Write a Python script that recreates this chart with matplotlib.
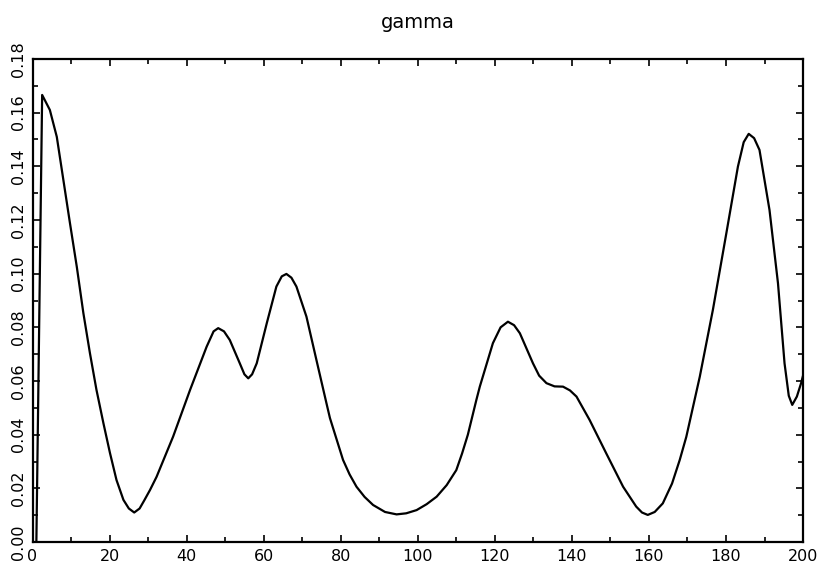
import matplotlib

matplotlib.use("Agg")
import matplotlib.pyplot as plt
from matplotlib.ticker import MultipleLocator

# values
x_vals = [
    1.0, 2.5, 4.5, 6.3, 8.0, 9.7, 11.5, 13.2, 14.9, 16.6, 18.4, 20.1, 21.8,
    23.6, 25.0, 26.4, 27.8, 29.0, 30.5, 32.2, 36.5, 40.9, 45.2, 47.0, 48.2,
    49.7, 51.2, 53.8, 55.0, 56.0, 57.0, 58.2, 60.8, 63.3, 64.7, 65.9, 67.2,
    68.5, 71.1, 73.7, 76.3, 77.2, 80.6, 82.3, 84.1, 86.2, 88.4, 91.5, 94.5,
    97.0, 99.7, 102.3, 104.9, 107.5, 110.0, 111.5, 113.0, 115.2, 116.1, 119.5,
    121.5, 123.4, 125.0, 126.5, 129.9, 131.5, 133.4, 135.5, 137.7, 139.5,
    141.2, 144.6, 148.9, 153.3, 156.7, 158.2, 159.7, 161.5, 163.6, 166.0,
    168.0, 169.7, 173.2, 176.6, 180.1, 183.1, 184.6, 185.9, 187.3, 188.7,
    191.3, 193.5, 195.2, 196.3, 197.2, 198.4, 199.5, 200.0,
]
gamma_vals = [
    0.000, 0.1666, 0.161, 0.151, 0.135, 0.119, 0.1025, 0.0853, 0.0704, 0.0567,
    0.0443, 0.0332, 0.0231, 0.0157, 0.0125, 0.0110, 0.0125, 0.0155, 0.0194,
    0.0243, 0.0393, 0.0567, 0.0728, 0.0785, 0.0797, 0.0785, 0.0753, 0.0666,
    0.0625, 0.0610, 0.0625, 0.0666, 0.0815, 0.0952, 0.0990, 0.0999, 0.0985,
    0.0952, 0.0840, 0.0678, 0.0517, 0.0462, 0.0306, 0.0252, 0.0206, 0.0168,
    0.0138, 0.0112, 0.0103, 0.0107, 0.0119, 0.0141, 0.0169, 0.0212, 0.0268,
    0.0330, 0.0400, 0.0529, 0.0579, 0.0741, 0.0800, 0.0821, 0.0808, 0.0778,
    0.0666, 0.0620, 0.0592, 0.0580, 0.0579, 0.0565, 0.0542, 0.0455, 0.0331,
    0.0206, 0.0132, 0.0110, 0.0101, 0.0112, 0.0144, 0.0218, 0.0306, 0.0392,
    0.0616, 0.0865, 0.1151, 0.1399, 0.1490, 0.1521, 0.1505, 0.1461, 0.1237,
    0.0964, 0.0666, 0.0545, 0.0511, 0.0542, 0.0592, 0.0620,
]

fig = plt.figure(figsize=(8.17, 5.72), dpi=100)
ax = fig.add_axes([0.0398, 0.0524, 0.9431, 0.8445])

ax.plot(x_vals, gamma_vals, color="black", lw=1.6)

ax.set_xlim(0, 200)
ax.set_ylim(0, 0.18)
ax.xaxis.set_major_locator(MultipleLocator(20))
ax.xaxis.set_minor_locator(MultipleLocator(10))
ax.yaxis.set_major_locator(MultipleLocator(0.02))
ax.yaxis.set_minor_locator(MultipleLocator(0.01))
ax.set_yticklabels([f"{v:.2f}" for v in ax.get_yticks()], rotation=90, va="center")

ax.tick_params(which="both", direction="in", top=True, right=True, width=1.2,
               labelsize=11.5, pad=5)
ax.tick_params(which="major", length=5)
ax.tick_params(which="minor", length=3.5)
for spine in ax.spines.values():
    spine.set_linewidth(1.6)

ax.set_title("gamma", fontsize=14, pad=22)

fig.savefig("out.png", dpi=100)
